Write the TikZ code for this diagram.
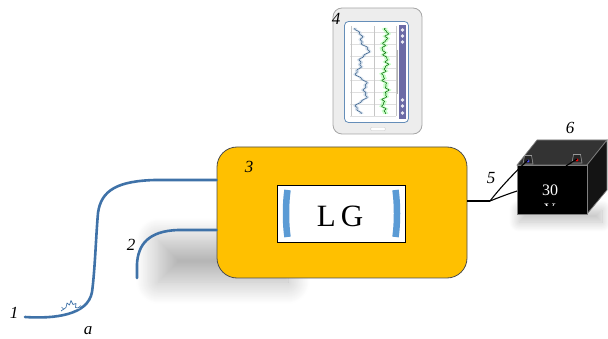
\documentclass[tikz,border=0pt]{standalone}
\usepackage{fontspec}
\setmainfont{Liberation Serif}
\usetikzlibrary{shadows.blur,calc}
\definecolor{gold}{HTML}{FFC000}
\definecolor{cable}{HTML}{3F72A8}
\definecolor{brk}{HTML}{5B9BD5}
\definecolor{sidebar}{HTML}{6B6BA6}
\begin{document}
\begin{tikzpicture}[x=1pt,y=-1pt,
  lbl/.style={font=\fontsize{17}{17}\selectfont\itshape, inner sep=0pt},
  cableline/.style={draw=cable, line width=2.6pt, line cap=round},
  wire/.style={draw=black, line width=1.1pt},
  mainbox/.style={draw=black!70, line width=0.8pt, fill=gold, rounded corners=20pt,
    minimum width=250pt, minimum height=131pt},
  bracket/.style={draw=brk, line width=6.5pt},
  face/.style={draw=black!50, line width=0.7pt}]
\useasboundingbox (0,0) rectangle (608,339);

% soft shadows
\path[blur shadow={shadow xshift=-42pt, shadow yshift=-2pt, shadow blur radius=22pt,
    shadow blur steps=24, shadow opacity=30}]
  (200,238) rectangle (330,280);
\path[blur shadow={shadow xshift=2pt, shadow yshift=-10pt, shadow blur radius=10pt,
    shadow blur steps=16, shadow opacity=25}]
  (517,200) rectangle (600,212);

% control unit
\node[mainbox] (unit) at (342,212.5) {};
\node[draw=black, line width=0.7pt, fill=white, minimum width=128pt, minimum height=57pt] (lg) at (341,213.5) {};
\node[font=\fontsize{31}{31}\selectfont] (lgtext) at (340,216) {L\,G};
\draw[bracket] (287.5,190) .. controls (285.5,204) and (285.5,223) .. (287.5,237);
\draw[bracket] (395.5,190) .. controls (397.5,204) and (397.5,223) .. (395.5,237);
\node[lbl] (l3) at (249,167) {3};

% cables
\coordinate (c1s) at (25,317);
\coordinate (c1e) at (unit.west |- 0,180);
\coordinate (c2s) at (137,278);
\coordinate (c2e) at (unit.west |- 0,230);
\draw[cableline] (c1s) .. controls (55,319) and (88,315) .. (92,292)
  .. controls (95,270) and (96,235) .. (98,213)
  .. controls (101,190) and (118,181) .. (155,180) -- (c1e);
\draw[cableline] (c2s) -- (137,264) .. controls (138,245) and (148,231) .. (178,230) -- (c2e);
% defect on cable 1
\draw[cable, line width=0.7pt, fill=white, line join=round]
  (61,311) -- (66,307.5) -- (67,303) -- (69.5,305) -- (71,300.5) -- (73,304.5) -- (76,303.5) -- (75.5,307.5) -- (81,308.5);
\draw[cable, line width=0.6pt] (64,309.5) -- (61.5,307) (78,308) -- (81,305.5);
\node[lbl] (l1) at (14,313) {1};
\node[lbl] (l2) at (131,245) {2};
\node[lbl] (la) at (88,331) {a};

% tablet
\node[draw=gray!70, line width=0.8pt, fill=gray!14, rounded corners=9pt,
  minimum width=89pt, minimum height=126pt] (tab) at (377.5,71) {};
\node[draw=cable!80, line width=0.8pt, fill=white, rounded corners=4pt,
  minimum width=64pt, minimum height=101pt] (scr) at (376.5,72) {};
\node[draw=gray!40, fill=white, rounded corners=1pt, minimum width=15pt, minimum height=3pt, inner sep=0pt] (home) at (378,129) {};
\begin{scope}
  \foreach \yy in {32,44,...,116} {\draw[gray!25, line width=0.3pt] (350,\yy) -- (396,\yy);}
  \draw[gray!45, line width=0.3pt] (351,26) -- (351,116) (374,26) -- (374,116) (396,26) -- (396,116);
  \fill[green!35!white, opacity=0.6] plot[domain=28:114, samples=90, smooth]
     ({385+2*sin(\x*13)+1.3*sin(\x*57)+0.8*sin(\x*97)+2.5},\x) --
     plot[domain=114:28, samples=90, smooth] ({385+2*sin(\x*13)+1.3*sin(\x*57)+0.8*sin(\x*97)-2.5},\x) -- cycle;
  \draw[green!40!black, line width=0.5pt] plot[domain=28:114, samples=120, smooth]
     ({385+2*sin(\x*13)+1.3*sin(\x*57)+0.8*sin(\x*97)},\x);
  \fill[cable!35, opacity=0.6] plot[domain=28:114, samples=90, smooth]
     ({362+4.5*sin(\x*9)+2.5*sin(\x*23)+1*sin(\x*71)+2},\x) --
     plot[domain=114:28, samples=90, smooth] ({362+4.5*sin(\x*9)+2.5*sin(\x*23)+1*sin(\x*71)-2},\x) -- cycle;
  \draw[cable!80!black, line width=0.5pt] plot[domain=28:114, samples=120, smooth]
     ({362+4.5*sin(\x*9)+2.5*sin(\x*23)+1*sin(\x*71)},\x);
  \fill[sidebar] (399,25) rectangle (406,119);
  \foreach \yy in {30,36,42,100,106,113} {\fill[white!85!sidebar] (402.5,\yy) circle (1.8pt);}
  \draw[gray!60, line width=0.6pt] (397,50) -- (397,94);
\end{scope}
\node[lbl] (l4) at (336,19) {4};

% battery
\fill[black!80] (517,165) -- (537,140) -- (607,140) -- (587,165) -- cycle;
\draw[face] (517,165) -- (537,140) -- (607,140) -- (587,165) -- cycle;
\fill[black!92] (587,165) -- (607,140) -- (607,190) -- (587,214) -- cycle;
\draw[face] (587,165) -- (607,140) -- (607,190) -- (587,214) -- cycle;
\node[fill=black, draw=black!50, line width=0.7pt, minimum width=70pt, minimum height=49pt, anchor=north west] (bat) at (517,165) {};
\node[text=white, font=\fontsize{16}{16}\selectfont] (volt) at (550,190) {30};
\begin{scope}
  \clip (517,165) rectangle (587,205.5);
  \node[text=white, font=\fontsize{16}{16}\selectfont] (unitv) at (550,209) {V};
\end{scope}
% terminals
\coordinate (tp) at (528,160);
\coordinate (tn) at (577,159);
\foreach \t/\c in {tp/blue!70, tn/red} {
  \filldraw[fill=black!85, draw=gray!80, line width=0.6pt]
    ($(\t)+(-5,4)$) -- ($(\t)+(-3.5,-4.5)$) -- ($(\t)+(3.5,-4.5)$) -- ($(\t)+(5,4)$) -- cycle;
  \fill[\c] ($(\t)+(0,1)$) circle (1.6pt);
}
% leads
\coordinate (j) at (490,201);
\draw[wire] (unit.east |- j) -- (j);
\draw[wire] (j) .. controls (500,188) and (515,172) .. (tp);
\draw[wire] (j) .. controls (500,197) and (508,194) .. (bat.west |- 0,191);
\draw[wire] (tn) -- (566,166);
\node[lbl] (l5) at (491,178) {5};
\node[lbl] (l6) at (570,128) {6};
\end{tikzpicture}
\end{document}
